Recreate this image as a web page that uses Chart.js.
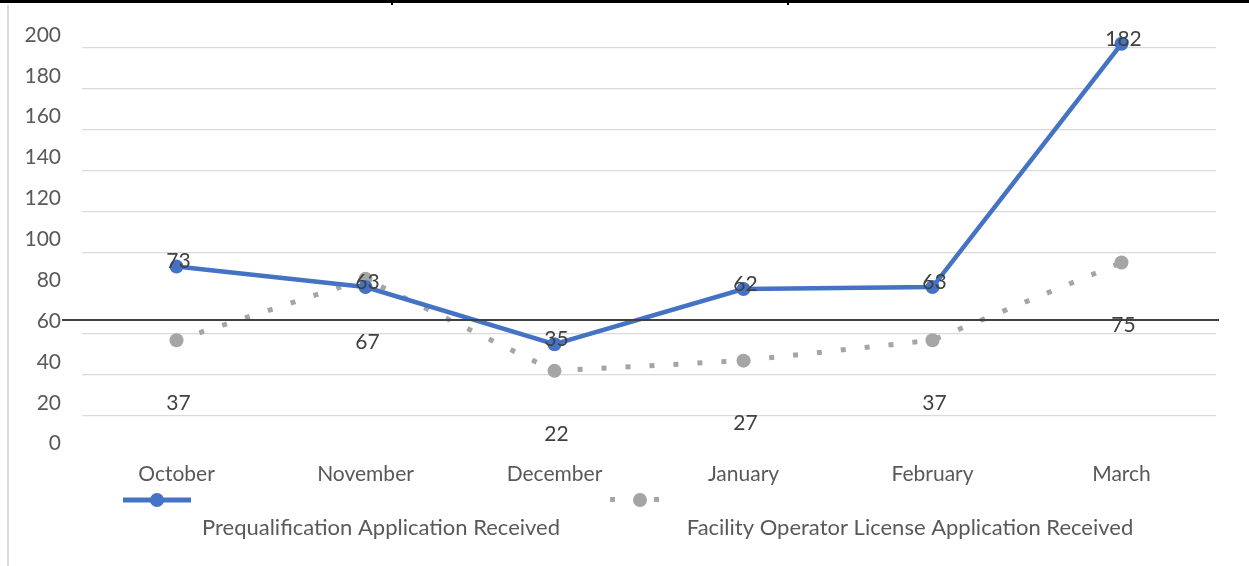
<!DOCTYPE html>
<html>
<head>
<meta charset="utf-8">
<script src="https://cdn.jsdelivr.net/npm/chart.js@4/dist/chart.umd.min.js"></script>
<style>
  html, body { margin: 0; padding: 0; background: #fff; }
  #wrap { position: relative; width: 1249px; height: 566px; overflow: hidden; }
  #myChart { position: absolute; left: 0; top: 0; }
  .rule { position: absolute; }
</style>
</head>
<body>
<div id="wrap">
  <canvas id="myChart" width="1249" height="566"></canvas>
  <!-- table borders around the pasted chart -->
  <div class="rule" style="left:0;top:0;width:1249px;height:3px;background:#000"></div>
  <div class="rule" style="left:391px;top:0;width:2px;height:5px;background:#000"></div>
  <div class="rule" style="left:787px;top:0;width:2px;height:5px;background:#000"></div>
  <div class="rule" style="left:7px;top:5px;width:2px;height:561px;background:#d9d9d9"></div>
  <div class="rule" style="left:62px;top:319px;width:1157px;height:2px;background:#404040"></div>
</div>
<script>
const months = ['October', 'November', 'December', 'January', 'February', 'March'];
const prequalValues = [73, 63, 35, 62, 63, 182];
const operatorValues = [37, 67, 22, 27, 37, 75];
const yTickLabels = ['0', '20', '40', '60', '80', '100', '120', '140', '160', '180', '200'];
const seriesNames = ['Prequalification Application Received', 'Facility Operator License Application Received'];

const BLUE = '#4472c4';
const GREY = '#a5a5a5';
const FONT = 'Lato, "Liberation Sans", sans-serif';

// value labels next to the points
const valueLabels = {
    id: 'valueLabels',
    afterDatasetsDraw(chart) {
        const c = chart.ctx;
        c.save();
        c.font = '21px ' + FONT;
        c.fillStyle = '#404040';
        c.textAlign = 'center';
        c.textBaseline = 'middle';
        chart.data.datasets.forEach((ds, i) => {
            const meta = chart.getDatasetMeta(i);
            meta.data.forEach((pt, j) => {
                const dy = i === 0 ? -5 : 63;
                c.fillText(String(ds.data[j]), pt.x + 2, pt.y + dy);
            });
        });
        c.restore();
    }
};

// legend: symbol row, then text row
const legendRows = {
    id: 'legendRows',
    afterDraw(chart) {
        const c = chart.ctx;
        c.save();
        // blue symbol
        c.strokeStyle = BLUE;
        c.lineWidth = 5;
        c.beginPath(); c.moveTo(123, 500); c.lineTo(191, 500); c.stroke();
        c.fillStyle = BLUE;
        c.beginPath(); c.arc(157, 500, 7, 0, Math.PI * 2); c.fill();
        // grey symbol
        c.fillStyle = GREY;
        c.fillRect(610, 497, 5, 5);
        c.fillRect(654, 497, 5, 5);
        c.beginPath(); c.arc(640, 500, 7, 0, Math.PI * 2); c.fill();
        // texts
        c.font = '22px ' + FONT;
        c.fillStyle = '#595959';
        c.textAlign = 'center';
        c.textBaseline = 'middle';
        c.fillText(seriesNames[0], 381, 528);
        c.fillText(seriesNames[1], 910, 528);
        c.restore();
    }
};

const ctx = document.getElementById('myChart').getContext('2d');
const myChart = new Chart(ctx, {
    type: 'line',
    data: {
        labels: months,
        datasets: [{
            label: seriesNames[0],
            data: prequalValues,
            borderColor: BLUE,
            backgroundColor: BLUE,
            borderWidth: 4.5,
            pointRadius: 7,
            pointBackgroundColor: BLUE,
            pointBorderColor: BLUE,
            pointBorderWidth: 0,
            tension: 0
        },
        {
            label: seriesNames[1],
            data: operatorValues,
            borderColor: GREY,
            backgroundColor: GREY,
            borderWidth: 5,
            borderDash: [5, 19],
            borderCapStyle: 'butt',
            pointRadius: 7,
            pointBackgroundColor: GREY,
            pointBorderColor: GREY,
            pointBorderWidth: 0,
            tension: 0
        }]
    },
    options: {
        responsive: false,
        animation: false,
        layout: {
            padding: { top: 1.3, right: 33, bottom: 0, left: 0 }
        },
        plugins: {
            legend: { display: false },
            tooltip: { enabled: false }
        },
        scales: {
            x: {
                offset: true,
                border: { display: false },
                grid: { display: false, drawTicks: false },
                ticks: {
                    padding: 5,
                    color: '#595959',
                    font: { family: FONT, size: 21 },
                    maxRotation: 0
                },
                afterFit(scale) {
                    scale.height = 109.3;
                    scale.paddingLeft = 0;
                    scale.paddingRight = 0;
                }
            },
            y: {
                min: -20,
                max: 200,
                border: { display: false },
                grid: {
                    drawTicks: false,
                    lineWidth: 1.3,
                    color: (c) => ([-20, 60, 200].includes(c.tick.value) ? 'transparent' : '#d9d9d9')
                },
                ticks: {
                    stepSize: 20,
                    padding: 21,
                    labelOffset: -13,
                    color: '#595959',
                    font: { family: FONT, size: 21 },
                    callback: (v, i) => (yTickLabels[i] !== undefined ? yTickLabels[i] : '')
                },
                afterFit(scale) {
                    scale.width = 82;
                    scale.paddingTop = 0;
                    scale.paddingBottom = 0;
                }
            }
        }
    },
    plugins: [valueLabels, legendRows]
});
</script>
</body>
</html>
